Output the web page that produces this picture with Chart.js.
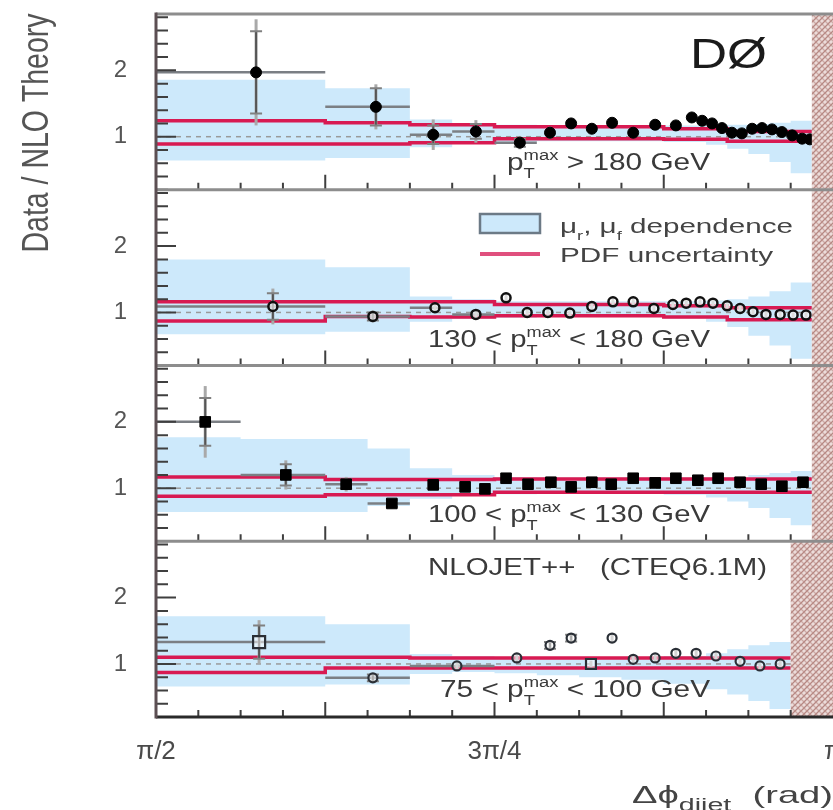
<!DOCTYPE html>
<html><head><meta charset="utf-8">
<script src="https://cdn.jsdelivr.net/npm/chart.js@4.4.1/dist/chart.umd.min.js"></script>
<style>html,body{margin:0;padding:0;background:#fff;}#wrap{position:relative;width:833px;height:810px;}</style>
</head><body><div id="wrap"><canvas id="c" width="833" height="810"></canvas></div>
<script>
const PI = Math.PI;
const FONT = '"Liberation Sans", Arial, Helvetica, sans-serif';

// ---- axis tick labels ----
const xLabelVals = [PI/2, 3*PI/4, PI];
const xLabelText = ['π/2', '3π/4', 'π'];
const yLabelVals = [1, 2];
const yLabelText = ['1', '2'];
const yMin = 0.2, yMax = 2.85;

// ---- panel 1 : pT > 180 GeV ----
const p1X = [1.803, 2.081, 2.214, 2.313, 2.415, 2.485, 2.534, 2.582, 2.629, 2.678, 2.729, 2.777, 2.814, 2.838, 2.861, 2.884, 2.907, 2.930, 2.954, 2.977, 3.000, 3.023, 3.047, 3.070, 3.088];
const p1Y = [1.97, 1.45, 1.03, 1.08, 0.91, 1.06, 1.20, 1.12, 1.21, 1.06, 1.18, 1.17, 1.29, 1.24, 1.20, 1.13, 1.06, 1.05, 1.12, 1.13, 1.11, 1.07, 1.02, 0.97, 0.96];
const p1Tot = [0.80, 0.34, 0.23, 0.17, 0.10, 0.09, 0.08, 0.08, 0.07, 0.07, 0.06, 0.06, 0.05, 0.05, 0.05, 0.05, 0.05, 0.05, 0.05, 0.05, 0.05, 0.05, 0.05, 0.05, 0.05];
const p1Stat = [0.62, 0.28, 0.14, 0.11, 0.06, 0, 0, 0, 0, 0, 0, 0, 0, 0, 0, 0, 0, 0, 0, 0, 0, 0, 0, 0, 0];
const p1XLo = [1.5708, 1.9635, 2.1598, 2.2580, 2.3562, null, null, null, null, null, null, null, null, null, null, null, null, null, null, null, null, null, null, null, null];
const p1XHi = [1.9635, 2.1598, 2.2580, 2.3562, 2.4544, null, null, null, null, null, null, null, null, null, null, null, null, null, null, null, null, null, null, null, null];
const band1Edges = [1.5708, 1.9635, 2.1598, 2.2580, 2.3562, 2.4544, 2.5525, 2.6507, 2.7489, 2.8471, 2.8962, 2.9452, 2.9943, 3.0434, 3.0925];
const band1Lo = [0.64, 0.68, 0.84, 0.90, 0.92, 0.93, 0.93, 0.93, 0.92, 0.88, 0.82, 0.74, 0.62, 0.45];
const band1Hi = [1.86, 1.73, 1.26, 1.20, 1.18, 1.17, 1.17, 1.17, 1.17, 1.17, 1.18, 1.19, 1.21, 1.24];
const pdf1Edges = [1.5708, 1.9635, 2.1598, 2.3562, 2.7489, 2.8962, 3.0925];
const pdf1Hi = [1.24, 1.21, 1.18, 1.15, 1.12, 1.08];
const pdf1Lo = [0.89, 0.89, 0.91, 0.97, 0.96, 0.93];

// ---- panel 2 : 130 < pT < 180 GeV ----
const p2X = [1.842, 2.074, 2.218, 2.313, 2.383, 2.432, 2.480, 2.531, 2.582, 2.631, 2.678, 2.726, 2.770, 2.801, 2.833, 2.863, 2.896, 2.926, 2.956, 2.986, 3.019, 3.049, 3.079];
const p2Y = [1.09, 0.94, 1.07, 0.97, 1.22, 1.00, 1.00, 0.99, 1.09, 1.16, 1.16, 1.06, 1.12, 1.14, 1.16, 1.14, 1.10, 1.06, 1.01, 0.97, 0.97, 0.96, 0.96];
const p2Tot = [0.27, 0.09, 0.07, 0.06, 0.06, 0.05, 0.05, 0.05, 0.05, 0.05, 0.05, 0.05, 0.04, 0.04, 0.04, 0.04, 0.04, 0.04, 0.04, 0.04, 0.04, 0.04, 0.04];
const p2Stat = [0.20, 0.06, 0, 0, 0, 0, 0, 0, 0, 0, 0, 0, 0, 0, 0, 0, 0, 0, 0, 0, 0, 0, 0];
const p2XLo = [1.5708, 1.9635, 2.1598, 2.2580, null, null, null, null, null, null, null, null, null, null, null, null, null, null, null, null, null, null, null];
const p2XHi = [1.9635, 2.1598, 2.2580, 2.3562, null, null, null, null, null, null, null, null, null, null, null, null, null, null, null, null, null, null, null];
const band2Edges = [1.5708, 1.9635, 2.1598, 2.2580, 2.3562, 2.4544, 2.5525, 2.6507, 2.7489, 2.8471, 2.8962, 2.9452, 2.9943, 3.0434, 3.0925];
const band2Lo = [0.67, 0.71, 0.86, 0.90, 0.92, 0.93, 0.93, 0.93, 0.91, 0.86, 0.78, 0.65, 0.50, 0.30];
const band2Hi = [1.80, 1.68, 1.24, 1.20, 1.17, 1.17, 1.17, 1.17, 1.17, 1.18, 1.20, 1.24, 1.32, 1.45];
const pdf2Edges = [1.5708, 1.9635, 2.1598, 2.3562, 2.7489, 2.8962, 3.0925];
const pdf2Hi = [1.16, 1.16, 1.16, 1.12, 1.10, 1.07];
const pdf2Lo = [0.87, 0.94, 0.93, 0.95, 0.93, 0.89];

// ---- panel 3 : 100 < pT < 130 GeV ----
const p3X = [1.685, 1.872, 2.012, 2.118, 2.214, 2.288, 2.334, 2.383, 2.434, 2.487, 2.534, 2.582, 2.627, 2.678, 2.729, 2.777, 2.828, 2.875, 2.926, 2.975, 3.023, 3.072];
const p3Y = [2.00, 1.20, 1.06, 0.77, 1.05, 1.02, 0.99, 1.15, 1.06, 1.09, 1.02, 1.09, 1.06, 1.15, 1.08, 1.15, 1.12, 1.15, 1.09, 1.06, 1.03, 1.09];
const p3Tot = [0.54, 0.22, 0.11, 0.07, 0.06, 0.05, 0.05, 0.05, 0.05, 0.04, 0.04, 0.04, 0.04, 0.04, 0.04, 0.04, 0.04, 0.04, 0.04, 0.04, 0.04, 0.04];
const p3Stat = [0.36, 0.16, 0.07, 0.05, 0, 0, 0, 0, 0, 0, 0, 0, 0, 0, 0, 0, 0, 0, 0, 0, 0, 0];
const p3XLo = [1.5708, 1.7671, 1.9635, 2.0617, null, null, null, null, null, null, null, null, null, null, null, null, null, null, null, null, null, null];
const p3XHi = [1.7671, 1.9635, 2.0617, 2.1598, null, null, null, null, null, null, null, null, null, null, null, null, null, null, null, null, null, null];
const band3Edges = [1.5708, 1.7671, 2.0617, 2.1598, 2.2580, 2.3562, 2.4544, 2.5525, 2.6507, 2.7489, 2.8471, 2.8962, 2.9452, 2.9943, 3.0434, 3.0925];
const band3Lo = [0.64, 0.64, 0.73, 0.84, 0.89, 0.91, 0.92, 0.92, 0.92, 0.90, 0.86, 0.80, 0.70, 0.55, 0.44];
const band3Hi = [1.77, 1.74, 1.60, 1.30, 1.20, 1.17, 1.16, 1.16, 1.16, 1.16, 1.16, 1.17, 1.20, 1.23, 1.26];
const pdf3Edges = [1.5708, 1.9635, 2.3562, 3.0925];
const pdf3Hi = [1.17, 1.13, 1.14];
const pdf3Lo = [0.88, 0.90, 0.94];

// ---- panel 4 : 75 < pT < 100 GeV ----
const p4X = [1.810, 2.074, 2.269, 2.408, 2.485, 2.534, 2.580, 2.629, 2.678, 2.729, 2.777, 2.824, 2.870, 2.926, 2.972, 3.019];
const p4Y = [1.33, 0.79, 0.97, 1.09, 1.28, 1.39, 1.00, 1.39, 1.07, 1.09, 1.16, 1.16, 1.12, 1.04, 0.97, 1.00];
const p4Tot = [0.33, 0.07, 0.05, 0.06, 0.08, 0.07, 0.05, 0.06, 0.05, 0.05, 0.05, 0.05, 0.05, 0.05, 0.05, 0.05];
const p4Stat = [0.25, 0.05, 0, 0, 0.05, 0.05, 0, 0, 0, 0, 0, 0, 0, 0, 0, 0];
const p4XLo = [1.5708, 1.9635, 2.1598, null, null, null, null, null, null, null, null, null, null, null, null, null];
const p4XHi = [1.9635, 2.1598, 2.3562, null, null, null, null, null, null, null, null, null, null, null, null, null];
const p4Marker = ['rect', 'circle', 'circle', 'circle', 'circle', 'circle', 'rect', 'circle', 'circle', 'circle', 'circle', 'circle', 'circle', 'circle', 'circle', 'circle'];
const band4Edges = [1.5708, 1.9635, 2.1598, 2.2580, 2.3562, 2.4544, 2.5525, 2.6507, 2.7489, 2.8471, 2.8962, 2.9452, 2.9943, 3.0434];
const band4Lo = [0.66, 0.69, 0.85, 0.88, 0.86, 0.83, 0.80, 0.76, 0.70, 0.62, 0.54, 0.44, 0.32];
const band4Hi = [1.72, 1.60, 1.15, 1.12, 1.10, 1.10, 1.10, 1.10, 1.12, 1.16, 1.22, 1.28, 1.33];
const pdf4Edges = [1.5708, 1.9635, 2.1598, 3.0434];
const pdf4Hi = [1.10, 1.10, 1.09];
const pdf4Lo = [0.87, 0.94, 0.94];

// region beyond the measured range (hatched), per panel
const hatchStart = [3.0925, 3.0925, 3.0925, 3.0434];

// ---------------- build datasets ----------------
const BLUE = '#cde9fb', RED = '#d81a52';
function stepData(edges, vals) {
  const d = vals.map((v, i) => ({x: edges[i], y: v}));
  d.push({x: edges[edges.length - 1], y: vals[vals.length - 1]});
  return d;
}
function pts(xs, ys) { return xs.map((x, i) => ({x: x, y: ys[i]})); }

const panelDefs = [
  {id: 'y1', band: [band1Edges, band1Lo, band1Hi], pdf: [pdf1Edges, pdf1Lo, pdf1Hi], p: [p1X, p1Y, p1Tot, p1Stat, p1XLo, p1XHi],
   style: {pointStyle: 'circle', pointRadius: 5.5, pointBackgroundColor: '#000', pointBorderColor: '#000', pointBorderWidth: 1}},
  {id: 'y2', band: [band2Edges, band2Lo, band2Hi], pdf: [pdf2Edges, pdf2Lo, pdf2Hi], p: [p2X, p2Y, p2Tot, p2Stat, p2XLo, p2XHi],
   style: {pointStyle: 'circle', pointRadius: 4.5, pointBackgroundColor: 'rgba(255,255,255,0.6)', pointBorderColor: '#111', pointBorderWidth: 2.5}},
  {id: 'y3', band: [band3Edges, band3Lo, band3Hi], pdf: [pdf3Edges, pdf3Lo, pdf3Hi], p: [p3X, p3Y, p3Tot, p3Stat, p3XLo, p3XHi],
   style: {pointStyle: 'rect', pointRadius: 7.5, pointBackgroundColor: '#000', pointBorderColor: '#000', pointBorderWidth: 1}},
  {id: 'y4', band: [band4Edges, band4Lo, band4Hi], pdf: [pdf4Edges, pdf4Lo, pdf4Hi], p: [p4X, p4Y, p4Tot, p4Stat, p4XLo, p4XHi],
   style: {pointStyle: p4Marker, pointRadius: p4Marker.map((m, i) => m === 'rect' ? (i === 0 ? 8.5 : 7) : 4.5), pointBackgroundColor: 'rgba(255,255,255,0.5)', pointBorderColor: '#2a2f36', pointBorderWidth: 2.2}}
];

const datasets = [];
panelDefs.forEach(pd => {
  const [be, bl, bh] = pd.band;
  datasets.push({type: 'line', yAxisID: pd.id, xAxisID: 'x', data: stepData(be, bl), stepped: 'before', showLine: true,
    borderWidth: 0, borderColor: 'rgba(0,0,0,0)', pointRadius: 0, fill: false, order: 5});
  datasets.push({type: 'line', yAxisID: pd.id, xAxisID: 'x', data: stepData(be, bh), stepped: 'before', showLine: true,
    borderWidth: 0, borderColor: 'rgba(0,0,0,0)', pointRadius: 0, fill: '-1', backgroundColor: BLUE, order: 5});
  datasets.push({type: 'line', yAxisID: pd.id, xAxisID: 'x', data: [{x: PI/2, y: 1}, {x: PI, y: 1}], showLine: true,
    borderWidth: 1.5, borderColor: '#9a9a9a', borderDash: [5, 5], pointRadius: 0, fill: false, order: 4});
  const [pe, pl, ph] = pd.pdf;
  [pl, ph].forEach(v => datasets.push({type: 'line', yAxisID: pd.id, xAxisID: 'x', data: stepData(pe, v), stepped: 'before', showLine: true,
    borderWidth: 3.5, borderColor: RED, pointRadius: 0, fill: false, order: 3}));
  const [xs, ys, tot, stat, xlo, xhi] = pd.p;
  datasets.push(Object.assign({type: 'scatter', yAxisID: pd.id, xAxisID: 'x', data: pts(xs, ys), showLine: false, order: 1,
    errTot: tot, errStat: stat, xLo: xlo, xHi: xhi}, pd.style));
});

// ---------------- scales ----------------
const xTicks = [];
for (let k = 0; k <= 16; k++) xTicks.push(PI/2 + k * PI/32);
const yTicks = [];
for (let k = 1; k <= 14; k++) yTicks.push(Math.round(k * 0.2 * 10) / 10);
function labelFor(v, vals, txt) {
  for (let i = 0; i < vals.length; i++) if (Math.abs(v - vals[i]) < 1e-6) return txt[i];
  return '';
}

const scales = {
  x: {type: 'linear', position: 'bottom', min: PI/2, max: PI,
    grid: {display: false, drawTicks: false}, border: {display: false},
    afterBuildTicks: s => { s.ticks = xTicks.map(v => ({value: v})); },
    ticks: {autoSkip: false, maxRotation: 0, minRotation: 0, padding: 19, color: '#4a4a4a', font: {size: 26, family: FONT},
      callback: v => labelFor(v, xLabelVals, xLabelText)},
    afterFit: s => { s.height = 93; s.paddingLeft = 0; s.paddingRight = 0; }
  }
};
['y1', 'y2', 'y3', 'y4'].forEach((id, i) => {
  scales[id] = {type: 'linear', position: 'left', stack: 'panels', stackWeight: 1, weight: 4 - i,
    min: yMin, max: yMax, grid: {display: false, drawTicks: false}, border: {display: false},
    afterBuildTicks: s => { s.ticks = yTicks.map(v => ({value: v})); },
    ticks: {autoSkip: false, padding: 29, color: '#555', font: {size: 24, family: FONT},
      callback: v => labelFor(v, yLabelVals, yLabelText)},
    afterFit: s => { s.width = 156; s.paddingTop = 0; s.paddingBottom = 0; }
  };
});

// ---------------- drawing helpers ----------------
function drawRich(ctx, parts, x, y, size, targetW, color, subScale) {
  const ss = subScale || 0.62;
  ctx.save();
  const items = parts.map(p => typeof p === 'string' ? {t: p} : Object.assign({}, p));
  let w = 0;
  items.forEach(it => {
    if (it.t === undefined) {
      ctx.font = (size * ss) + 'px ' + FONT;
      it.w = Math.max(it.sub ? ctx.measureText(it.sub).width : 0, it.sup ? ctx.measureText(it.sup).width : 0);
    } else {
      ctx.font = size + 'px ' + FONT;
      it.w = ctx.measureText(it.t).width;
    }
    w += it.w;
  });
  const sx = targetW ? targetW / w : 1;
  ctx.translate(x, y);
  ctx.scale(sx, 1);
  ctx.fillStyle = color;
  ctx.textAlign = 'left';
  ctx.textBaseline = 'alphabetic';
  let cx = 0;
  items.forEach(it => {
    if (it.t === undefined) {
      ctx.font = (size * ss) + 'px ' + FONT;
      if (it.sub) ctx.fillText(it.sub, cx, size * 0.32);
      if (it.sup) ctx.fillText(it.sup, cx, -size * 0.42);
    } else {
      ctx.font = size + 'px ' + FONT;
      ctx.fillText(it.t, cx, 0);
    }
    cx += it.w;
  });
  ctx.restore();
}
const PT = {sub: 'T', sup: 'max'};
const notes = [
  {parts: ['DØ'], x: 690, y: 68, size: 42, w: 77, color: '#1a1a1a'},
  {parts: ['p', PT, ' > 180 GeV'], x: 507, y: 170, size: 24, w: 203, color: '#3a3a3a'},
  {parts: ['130 < p', PT, ' < 180 GeV'], x: 428, y: 347, size: 24, w: 282, color: '#3a3a3a'},
  {parts: ['100 < p', PT, ' < 130 GeV'], x: 428, y: 522, size: 24, w: 282, color: '#3a3a3a'},
  {parts: ['NLOJET++   (CTEQ6.1M)'], x: 428, y: 575, size: 24, w: 339, color: '#3a3a3a'},
  {parts: ['75 < p', PT, ' < 100 GeV'], x: 440, y: 697, size: 24, w: 270, color: '#3a3a3a'},
  {parts: ['μ', {sub: 'r'}, ', μ', {sub: 'f'}, ' dependence'], x: 560, y: 233, size: 21, w: 233, color: '#444'},
  {parts: ['PDF uncertainty'], x: 560, y: 262, size: 21, w: 213, color: '#444'},
  {parts: ['Δϕ', {sub: 'dijet'}, '  (rad)'], x: 632, y: 803, size: 24, w: 201, color: '#444', ss: 0.75}
];

let hatchPattern = null;
function getHatch(ctx) {
  if (hatchPattern) return hatchPattern;
  const c = document.createElement('canvas'); c.width = 6; c.height = 6;
  const g = c.getContext('2d');
  g.fillStyle = '#ecdcda'; g.fillRect(0, 0, 6, 6);
  g.strokeStyle = '#b78883'; g.lineWidth = 1.3;
  g.beginPath(); g.moveTo(0, 6); g.lineTo(6, 0); g.moveTo(-1, 1); g.lineTo(1, -1); g.moveTo(5, 7); g.lineTo(7, 5); g.stroke();
  g.strokeStyle = 'rgba(183,136,131,0.6)';
  g.beginPath(); g.moveTo(0, 0); g.lineTo(6, 6); g.stroke();
  hatchPattern = ctx.createPattern(c, 'repeat');
  return hatchPattern;
}

const decor = {
  id: 'decor',
  beforeDatasetDraw(chart, args) {
    const ds = chart.data.datasets[args.index];
    if (!ds.errTot) return;
    const ctx = chart.ctx, xs = chart.scales.x, ys = chart.scales[ds.yAxisID];
    ctx.save();
    ds.data.forEach((p, i) => {
      const px = xs.getPixelForValue(p.x), py = ys.getPixelForValue(p.y);
      if (ds.xLo[i] != null) {
        ctx.strokeStyle = '#7b7f84'; ctx.lineWidth = 2.5;
        ctx.beginPath(); ctx.moveTo(xs.getPixelForValue(ds.xLo[i]), py); ctx.lineTo(xs.getPixelForValue(ds.xHi[i]), py); ctx.stroke();
      }
      const t = ds.errTot[i], s = ds.errStat[i];
      if (t) {
        ctx.strokeStyle = '#a9a9a9'; ctx.lineWidth = 3;
        ctx.beginPath(); ctx.moveTo(px, ys.getPixelForValue(p.y + t)); ctx.lineTo(px, ys.getPixelForValue(p.y - t)); ctx.stroke();
      }
      if (s) {
        ctx.strokeStyle = '#555'; ctx.lineWidth = 2;
        const a = ys.getPixelForValue(p.y + s), b = ys.getPixelForValue(p.y - s);
        ctx.beginPath(); ctx.moveTo(px, a); ctx.lineTo(px, b); ctx.stroke();
        ctx.strokeStyle = '#808080'; ctx.lineWidth = 2;
        ctx.beginPath(); ctx.moveTo(px - 6, a); ctx.lineTo(px + 6, a); ctx.moveTo(px - 6, b); ctx.lineTo(px + 6, b); ctx.stroke();
      }
    });
    ctx.restore();
  },
  afterDatasetsDraw(chart) {
    const ctx = chart.ctx, ca = chart.chartArea, xs = chart.scales.x;
    const ids = ['y1', 'y2', 'y3', 'y4'];
    ctx.save();
    ids.forEach((id, i) => {
      const ys = chart.scales[id];
      const x0 = xs.getPixelForValue(hatchStart[i]);
      ctx.fillStyle = getHatch(ctx);
      ctx.fillRect(x0, ys.top, ca.right - x0, ys.bottom - ys.top);
    });
    ctx.strokeStyle = '#3f3f3f'; ctx.lineWidth = 2;
    ids.forEach(id => {
      const ys = chart.scales[id];
      ctx.beginPath();
      yTicks.forEach(v => {
        const py = ys.getPixelForValue(v);
        const len = Number.isInteger(v) ? 20 : 12;
        ctx.moveTo(ca.left, py); ctx.lineTo(ca.left + len, py);
      });
      xTicks.forEach((v, k) => {
        if (k === 0 || k === 16) return;
        const px = xs.getPixelForValue(v);
        const len = k % 4 === 0 ? 15 : 7;
        ctx.moveTo(px, ys.bottom); ctx.lineTo(px, ys.bottom - len);
      });
      ctx.stroke();
    });
    ctx.strokeStyle = '#8d8d8d'; ctx.lineWidth = 3;
    ctx.beginPath();
    ids.forEach(id => {
      const ys = chart.scales[id];
      ctx.moveTo(ca.left, ys.top); ctx.lineTo(ca.right, ys.top);
    });
    ctx.stroke();
    ctx.strokeStyle = '#2a2a2a'; ctx.lineWidth = 3;
    ctx.beginPath(); ctx.moveTo(ca.left, ca.bottom); ctx.lineTo(ca.right, ca.bottom); ctx.stroke();
    ctx.strokeStyle = '#5c4f53'; ctx.lineWidth = 3;
    ctx.beginPath(); ctx.moveTo(ca.left, ca.top - 1.5); ctx.lineTo(ca.left, ca.bottom + 1.5); ctx.stroke();
    ctx.restore();
  },
  afterDraw(chart) {
    const ctx = chart.ctx;
    ctx.save();
    ctx.fillStyle = BLUE; ctx.fillRect(480, 214, 60, 19);
    ctx.strokeStyle = '#6c7a86'; ctx.lineWidth = 2.5; ctx.strokeRect(480, 214, 60, 19);
    ctx.strokeStyle = '#e0507e'; ctx.lineWidth = 4;
    ctx.beginPath(); ctx.moveTo(480, 254); ctx.lineTo(540, 254); ctx.stroke();
    notes.forEach(n => drawRich(ctx, n.parts, n.x, n.y, n.size, n.w, n.color, n.ss));
    ctx.translate(38, 133); ctx.rotate(-PI/2);
    ctx.font = '28px ' + FONT;
    const tw = ctx.measureText('Data / NLO Theory').width;
    ctx.scale(239 / tw, 1.3);
    ctx.fillStyle = '#555'; ctx.textAlign = 'center'; ctx.textBaseline = 'middle';
    ctx.fillText('Data / NLO Theory', 0, 0);
    ctx.restore();
  }
};

Chart.defaults.font.family = FONT;
new Chart(document.getElementById('c'), {
  type: 'scatter',
  data: {datasets: datasets},
  options: {
    responsive: false, animation: false, devicePixelRatio: 1, events: [],
    layout: {autoPadding: false, padding: {top: 14, left: 0, right: 0, bottom: 0}},
    plugins: {legend: {display: false}, tooltip: {enabled: false}, title: {display: false}},
    scales: scales
  },
  plugins: [decor]
});
</script></body></html>
